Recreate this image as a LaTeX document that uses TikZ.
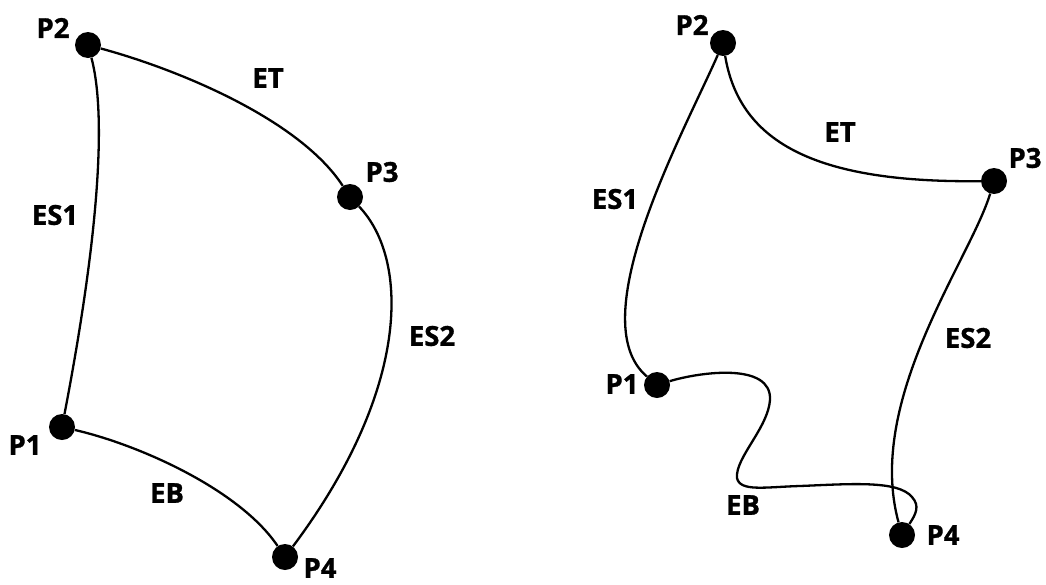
\documentclass[tikz,border=0pt]{standalone}
\usepackage{fontspec}
\setmainfont{Open Sans}[BoldFeatures={FakeBold=1.2}]
\begin{document}
\begin{tikzpicture}[x=1pt,y=-1pt,
  dot/.style={circle,fill=black,inner sep=0pt,minimum size=26pt},
  lbl/.style={font=\fontsize{27.5}{27.5}\selectfont\bfseries,inner sep=0pt,anchor=center},
  edge/.style={line width=2.3pt,black}]
\useasboundingbox (0,0) rectangle (1046,584);
% ---------- left diagram ----------
\node[dot] (lP2) at (88,45) {};
\node[dot] (lP3) at (350,197) {};
\node[dot] (lP1) at (62,427) {};
\node[dot] (lP4) at (285,557) {};
\node[lbl] (tlP2) at (53,28) {P2};
\node[lbl] (tlP3) at (382,172) {P3};
\node[lbl] (tlP1) at (25,445) {P1};
\node[lbl] (tlP4) at (320,568) {P4};
\node[lbl] (tlET) at (268,78) {ET};
\node[lbl] (tlES1) at (55,215) {ES1};
\node[lbl] (tlES2) at (432,336) {ES2};
\node[lbl] (tlEB) at (167,493) {EB};
\draw[edge] (lP2) .. controls (108,120) and (96,250) .. (lP1);
\draw[edge] (lP2) .. controls (180,70) and (300,120) .. (lP3);
\draw[edge] (lP3) .. controls (410,260) and (410,390) .. (lP4);
\draw[edge] (lP1) .. controls (140,445) and (240,490) .. (lP4);
% ---------- right diagram ----------
\node[dot] (rP2) at (723,43) {};
\node[dot] (rP3) at (994,181) {};
\node[dot] (rP1) at (657,385) {};
\node[dot] (rP4) at (902,535) {};
\node[lbl] (trP2) at (692,25) {P2};
\node[lbl] (trP3) at (1025,158) {P3};
\node[lbl] (trP1) at (622,384) {P1};
\node[lbl] (trP4) at (943,535) {P4};
\node[lbl] (trET) at (840,132) {ET};
\node[lbl] (trES1) at (615,199) {ES1};
\node[lbl] (trES2) at (968,338) {ES2};
\node[lbl] (trEB) at (743,505) {EB};
\coordinate (eb1) at (770,400);
\coordinate (eb2) at (737,478);
\coordinate (eb3) at (800,486);
\coordinate (eb4) at (912,497);
\draw[edge] (rP2) .. controls (685,130) and (580,320) .. (rP1);
\draw[edge] (rP2) .. controls (740,145) and (820,183) .. (rP3);
\draw[edge] (rP3) .. controls (970,260) and (865,400) .. (rP4);
\draw[edge] (rP1) .. controls (700,372) and (772,362) .. (eb1)
  .. controls (768,428) and (735,458) .. (eb2)
  .. controls (740,492) and (765,487) .. (eb3)
  .. controls (850,484) and (898,480) .. (eb4)
  .. controls (920,506) and (916,514) .. (rP4);
\end{tikzpicture}
\end{document}
